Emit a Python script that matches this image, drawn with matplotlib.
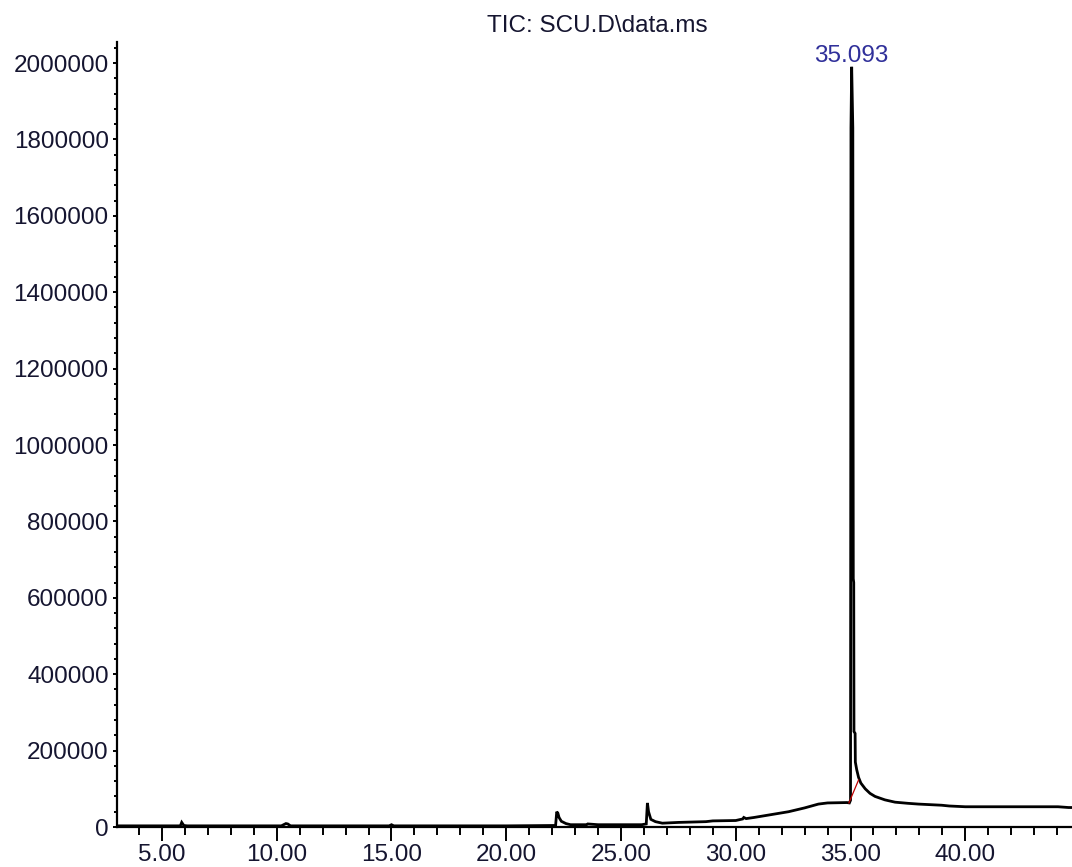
import matplotlib
matplotlib.use("Agg")
import matplotlib.pyplot as plt
from matplotlib.ticker import MultipleLocator, FormatStrFormatter

# TIC trace (retention time in min, abundance)
rt_min = [3.04, 5.5, 5.8, 5.86, 5.95, 6.1, 10.2, 10.4, 10.48, 10.6,
          14.9, 15.0, 15.1, 20.0, 22.15, 22.2, 22.25, 22.3, 22.4, 22.6,
          22.8, 23.5, 23.55, 24.0, 24.5, 25.0, 25.9, 26.1, 26.15, 26.2,
          26.3, 26.5, 26.8, 27.5, 28.7, 29.0, 30.0, 30.3, 30.35, 30.45,
          30.8, 31.4, 32.3, 33.0, 33.6, 34.0, 34.85, 34.95, 35.0, 35.02,
          35.05, 35.10, 35.12, 35.14, 35.15, 35.20, 35.21, 35.27, 35.35, 35.45,
          35.64, 35.85, 36.07, 36.5, 36.94, 37.5, 37.96, 38.97, 39.3, 40.0,
          42.0, 44.04, 44.5, 44.65]
tic_counts = [3000, 3000, 3000, 12000, 4000, 3000, 3000, 9000, 8000, 3000,
              3000, 6000, 3000, 3000, 4000, 40000, 36000, 25000, 15000, 9000,
              6000, 6000, 8000, 6000, 6000, 6000, 6000, 8000, 63000, 40000,
              20000, 14000, 10000, 12000, 14000, 16000, 17000, 21000, 25000, 22000,
              25000, 31000, 40000, 50000, 60000, 63000, 64000, 63000, 70000, 1830000,
              1990000, 1830000, 650000, 640000, 250000, 245000, 170000, 150000, 130000, 115000,
              100000, 88000, 80000, 71000, 65000, 62000, 60000, 57000, 55000, 53000,
              53000, 53000, 51000, 51000]

# integration baseline under the main peak
base_rt = [34.93, 35.35]
base_counts = [63000, 123000]

peak_rt = 35.05
peak_counts = 1990000
peak_label = "35.093"

plt.rcParams["font.family"] = ["Liberation Sans", "DejaVu Sans"]
FS = 17.5
INK = "#151530"

fig = plt.figure(figsize=(10.72, 8.67), dpi=100)
W, H = 1072, 867
ax = fig.add_axes([117 / W, (H - 827) / H, (W - 117) / W, (827 - 41.7) / H])

ax.plot(rt_min, tic_counts, color="black", lw=2.0, solid_joinstyle="miter")
ax.plot(base_rt, base_counts, color="#c00000", lw=0.9)

ax.annotate(peak_label, (peak_rt, peak_counts), xytext=(0, 5),
            textcoords="offset pixels", ha="center", va="baseline",
            fontsize=FS, color="#30309a")

ax.set_xlim(3.04, 44.65)
ax.set_ylim(0, 2055800)

ax.xaxis.set_major_locator(MultipleLocator(5))
ax.xaxis.set_minor_locator(MultipleLocator(1))
ax.xaxis.set_major_formatter(FormatStrFormatter("%.2f"))
ax.yaxis.set_major_locator(MultipleLocator(200000))
ax.yaxis.set_minor_locator(MultipleLocator(40000))
ax.yaxis.set_major_formatter(FormatStrFormatter("%d"))

for side in ("top", "right"):
    ax.spines[side].set_visible(False)
for side in ("left", "bottom"):
    ax.spines[side].set_linewidth(1.6)
    ax.spines[side].set_color("black")

ax.tick_params(axis="x", which="major", length=10, width=1.4, pad=2,
               labelsize=FS, labelcolor=INK)
ax.tick_params(axis="x", which="minor", length=5.8, width=1.4)
ax.tick_params(axis="y", which="major", length=3, width=1.4, pad=3,
               labelsize=FS, labelcolor=INK)
ax.tick_params(axis="y", which="minor", length=2, width=1.4)

fig.text(597 / W, 1 - 26 / H, "TIC: SCU.D\\data.ms", ha="center", va="center",
         fontsize=FS, color=INK)

fig.savefig("out.png", dpi=100)
